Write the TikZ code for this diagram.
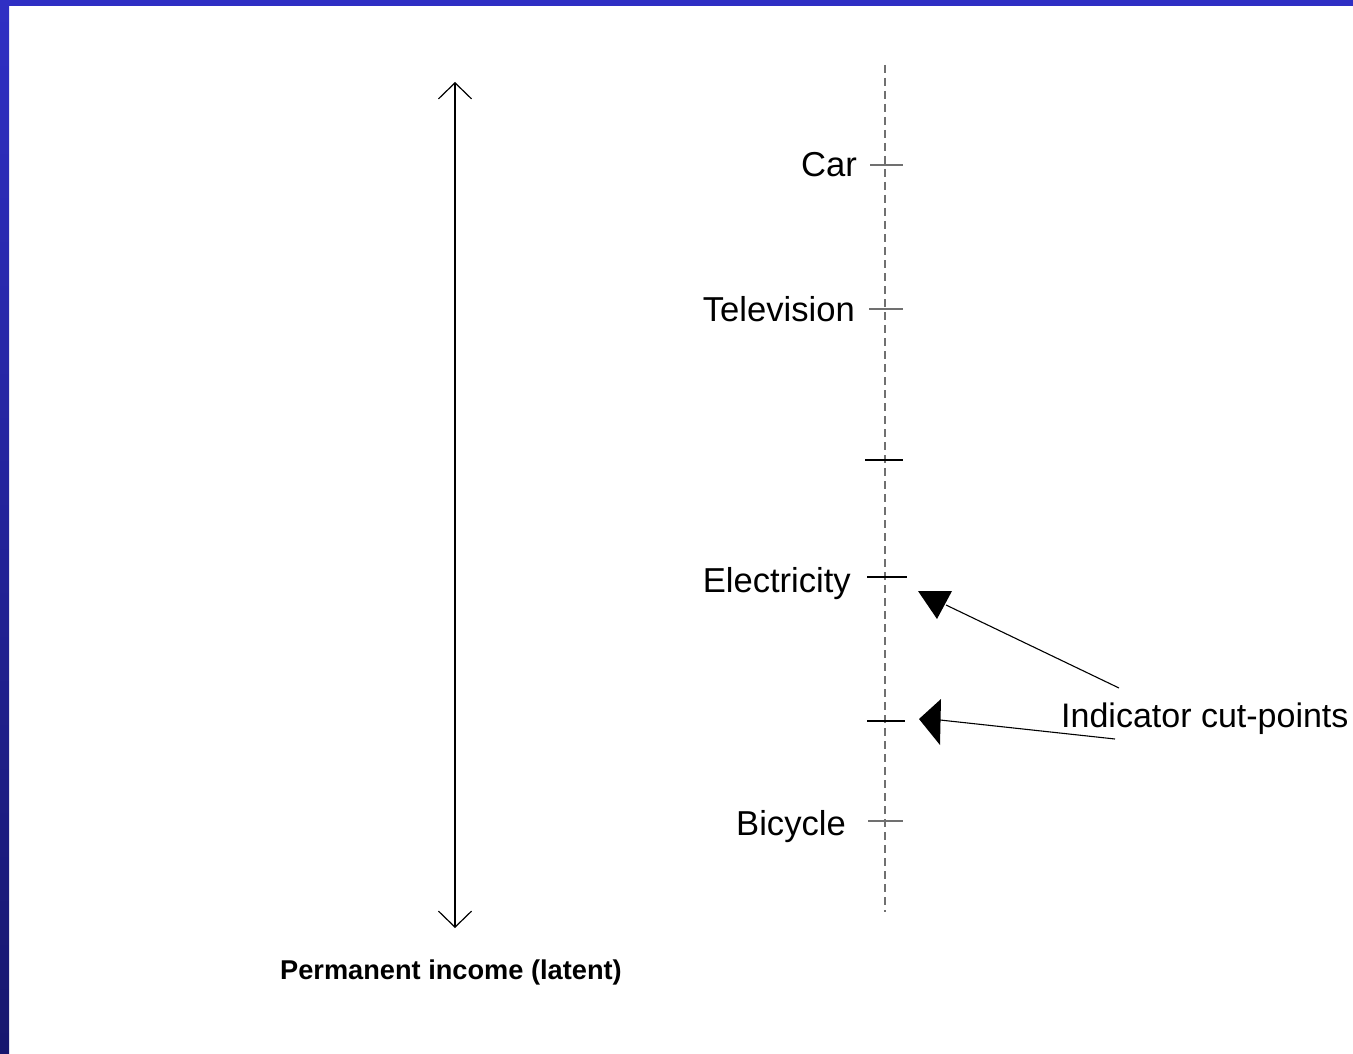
\documentclass[tikz,border=0pt]{standalone}
\usepackage{fontspec}
\setmainfont{Liberation Sans}
\usetikzlibrary{arrows.meta}
\definecolor{barblue}{HTML}{2F2FC4}
\definecolor{bardark}{HTML}{17176E}
\definecolor{dashgray}{HTML}{707070}
\begin{document}
\begin{tikzpicture}[x=1pt,y=-1pt,
  lbl/.style={inner sep=0pt,font=\fontsize{34.6}{40}\selectfont},
  tickg/.style={draw=dashgray,line width=1.2pt},
  tickb/.style={draw=black,line width=1.1pt},
  ptr/.style={draw=black,line width=1.1pt},
  head/.style={fill=black}]
\useasboundingbox (0,0) rectangle (1353,1054);
\fill[white] (0,0) rectangle (1353,1054);
\fill[barblue] (0,0) rectangle (1353,6);
\shade[top color=barblue,bottom color=bardark] (0,0) rectangle (9,1054);
% latent axis
\coordinate (top) at (455,82);
\coordinate (bot) at (455,928);
\draw[line width=1.2pt,{Straight Barb[length=16pt,width=33pt]}-{Straight Barb[length=16pt,width=33pt]}] (top) -- (bot);
\node[inner sep=0pt,anchor=base,font=\bfseries\fontsize{27.2}{32}\selectfont] (perm) at (451,979) {Permanent income (latent)};
% dashed scale
\coordinate (dtop) at (885,65);
\coordinate (dbot) at (885,912);
\draw[dashgray,line width=1.5pt,dash pattern=on 8pt off 5pt] (dtop) -- (dbot);
% ticks
\draw[tickg] (870,165) -- (903,165);
\draw[tickg] (869,309) -- (903,309);
\draw[tickb] (865,460) -- (903,460);
\draw[tickb] (867,577) -- (907,577);
\draw[tickb] (867,721) -- (905,721);
\draw[tickg] (868,821) -- (903,821);
% labels
\node[lbl,anchor=base east] (car) at (857,177) {Car};
\node[lbl,anchor=base east] (tv) at (855,321) {Television};
\node[lbl,anchor=base east] (elec) at (851,592) {Electricity};
\node[lbl,anchor=base east] (bike) at (846,835) {Bicycle};
\node[lbl,anchor=base west,font=\fontsize{34}{40}\selectfont] (ind) at (1061,727) {Indicator cut-points};
% pointers
\coordinate (s1) at (1119,688);
\coordinate (e1) at (946,605);
\coordinate (s2) at (1115,739);
\coordinate (e2) at (940,720);
\draw[ptr] (s1) -- (e1);
\draw[ptr] (s2) -- (e2);
\fill[head] (918,591) -- (952,591) -- (937,619) -- cycle;
\fill[head] (919,719) -- (941,699) -- (940,745) -- cycle;
\end{tikzpicture}
\end{document}
